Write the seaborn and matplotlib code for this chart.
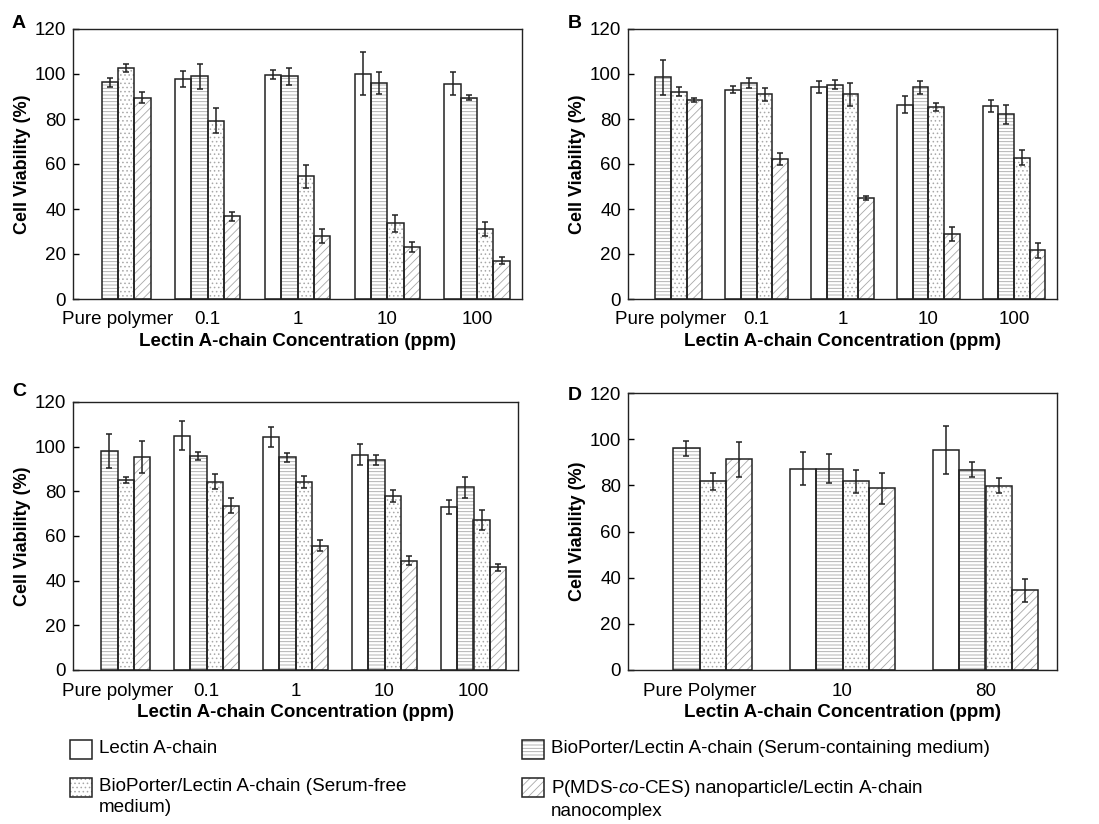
import numpy as np
import pandas as pd
import matplotlib
matplotlib.use("Agg")
import matplotlib.pyplot as plt
from matplotlib.patches import Rectangle
import seaborn as sns

nan = np.nan

# ---------------- data ----------------
series = ["lectin", "serum", "free", "nano"]
series_labels = {
    "lectin": "Lectin A-chain",
    "serum": "BioPorter/Lectin A-chain (Serum-containing medium)",
    "free": "BioPorter/Lectin A-chain (Serum-free\nmedium)",
    "nano": "P(MDS-$\\mathit{co}$-CES) nanoparticle/Lectin A-chain\nnanocomplex",
}

groups_abc = ["Pure polymer", "0.1", "1", "10", "100"]
groups_d = ["Pure Polymer", "10", "80"]

A_lectin = [nan, 97.8, 99.6, 100.1, 95.7]
A_lectin_err = [nan, 3.7, 2.0, 9.5, 5.2]
A_serum = [96.3, 99.0, 99.0, 95.9, 89.5]
A_serum_err = [2.0, 5.6, 3.7, 5.0, 1.2]
A_free = [102.8, 79.3, 54.5, 33.6, 31.1]
A_free_err = [1.8, 5.7, 5.2, 3.7, 3.3]
A_nano = [89.5, 36.7, 27.9, 23.0, 17.0]
A_nano_err = [2.5, 2.0, 3.2, 2.3, 1.5]

B_lectin = [nan, 93.0, 94.2, 86.4, 85.8]
B_lectin_err = [nan, 1.5, 2.6, 3.9, 2.5]
B_serum = [98.5, 95.9, 95.3, 94.0, 82.0]
B_serum_err = [7.7, 2.1, 2.1, 2.7, 4.4]
B_free = [92.1, 90.9, 90.9, 85.2, 62.8]
B_free_err = [1.9, 2.7, 5.0, 1.8, 3.2]
B_nano = [88.4, 62.2, 45.0, 28.7, 21.7]
B_nano_err = [1.0, 2.8, 0.9, 3.1, 3.3]

C_lectin = [nan, 104.9, 104.2, 96.4, 72.9]
C_lectin_err = [nan, 6.5, 4.5, 4.6, 3.2]
C_serum = [97.9, 96.0, 95.2, 94.0, 81.8]
C_serum_err = [7.6, 1.8, 2.0, 2.4, 4.6]
C_free = [85.0, 84.3, 84.3, 78.0, 67.1]
C_free_err = [1.2, 3.3, 2.7, 2.6, 4.5]
C_nano = [95.2, 73.5, 55.6, 49.0, 45.9]
C_nano_err = [7.2, 3.3, 2.5, 2.1, 1.5]

D_lectin = [nan, 87.2, 95.5]
D_lectin_err = [nan, 7.1, 10.4]
D_serum = [96.1, 87.2, 86.8]
D_serum_err = [3.2, 6.4, 3.1]
D_free = [81.7, 81.7, 79.9]
D_free_err = [3.8, 5.1, 3.1]
D_nano = [91.2, 78.7, 34.6]
D_nano_err = [7.4, 6.8, 5.0]

y_ticks = [0, 20, 40, 60, 80, 100, 120]
xlabel = "Lectin A-chain Concentration (ppm)"
ylabel = "Cell Viability (%)"

# ---------------- style ----------------
sns.set_theme(style="ticks")
plt.rcParams["font.family"] = ["Liberation Sans", "DejaVu Sans"]
plt.rcParams["mathtext.fontset"] = "custom"
plt.rcParams["mathtext.rm"] = "Liberation Sans"
plt.rcParams["mathtext.it"] = "Liberation Sans:italic"
plt.rcParams["hatch.linewidth"] = 0.6
for k in ["axes.edgecolor", "xtick.color", "ytick.color", "text.color",
          "axes.labelcolor"]:
    plt.rcParams[k] = "black"

hatches = {"lectin": "", "serum": "-----", "free": "....", "nano": "////"}
hatch_col = "#a8a8a8"

fig = plt.figure(figsize=(10.99, 8.24), dpi=100)
W, H = 1099.0, 824.0


def rect(l, t, r, b):
    return [l / W, 1 - b / H, (r - l) / W, (b - t) / H]


def draw_panel(ax, groups, vals, errs):
    rows = []
    for s in series:
        for g, v in zip(groups, vals[s]):
            if not np.isnan(v):
                rows.append({"group": g, "series": s, "value": v})
    df = pd.DataFrame(rows)
    sns.barplot(data=df, x="group", y="value", hue="series", order=groups,
                hue_order=series, palette={s: "white" for s in series},
                edgecolor=hatch_col, linewidth=0, width=0.73, errorbar=None,
                legend=False, ax=ax)
    bar_conts = list(ax.containers)
    outlines = []
    for j, cont in enumerate(bar_conts):
        s = series[j]
        first = None
        for p in cont:
            p.set_hatch(hatches[s])
            # dark outline drawn over the hatched (grey) bar
            o = Rectangle((p.get_x(), p.get_y()), p.get_width(), p.get_height(),
                          fill=False, edgecolor="#222222", linewidth=1.1, zorder=3)
            ax.add_patch(o)
            if first is None:
                first = o
            xc = p.get_x() + p.get_width() / 2
            i = int(round(xc))
            e = errs[s][i]
            ax.errorbar(xc, p.get_height(), yerr=e, color="#222222",
                        elinewidth=1.1, capsize=2.5, capthick=1.1, zorder=5)
        outlines.append(first)
    ax.set_xlim(-0.5, len(groups) - 0.5)
    ax.set_ylim(0, 120)
    ax.set_yticks(y_ticks)
    ax.tick_params(axis="y", direction="in", length=4, width=1, pad=5,
                   labelsize=13.5)
    ax.tick_params(axis="x", length=0, pad=9, labelsize=13.5)
    ax.set_xlabel(xlabel, fontsize=13.5, fontweight="bold", labelpad=3)
    ax.set_ylabel(ylabel, fontsize=13, fontweight="bold", labelpad=3)
    for sp in ax.spines.values():
        sp.set_visible(True)
        sp.set_linewidth(1.0)
        sp.set_color("#222222")
        sp.set_zorder(6)
    return [(c[0], o) for c, o in zip(bar_conts, outlines)]


axA = fig.add_axes(rect(73, 29, 522, 299))
axB = fig.add_axes(rect(628, 29, 1057, 299))
axC = fig.add_axes(rect(73, 402, 518, 670))
axD = fig.add_axes(rect(628, 393, 1057, 670))

draw_panel(axA, groups_abc,
           {"lectin": A_lectin, "serum": A_serum, "free": A_free, "nano": A_nano},
           {"lectin": A_lectin_err, "serum": A_serum_err, "free": A_free_err, "nano": A_nano_err})
draw_panel(axB, groups_abc,
           {"lectin": B_lectin, "serum": B_serum, "free": B_free, "nano": B_nano},
           {"lectin": B_lectin_err, "serum": B_serum_err, "free": B_free_err, "nano": B_nano_err})
draw_panel(axC, groups_abc,
           {"lectin": C_lectin, "serum": C_serum, "free": C_free, "nano": C_nano},
           {"lectin": C_lectin_err, "serum": C_serum_err, "free": C_free_err, "nano": C_nano_err})
hD = draw_panel(axD, groups_d,
                {"lectin": D_lectin, "serum": D_serum, "free": D_free, "nano": D_nano},
                {"lectin": D_lectin_err, "serum": D_serum_err, "free": D_free_err, "nano": D_nano_err})

for letter, x, yb in [("A", 12, 28), ("B", 568, 28), ("C", 12, 396), ("D", 568, 400)]:
    fig.text(x / W, 1 - yb / H, letter, fontsize=14, fontweight="bold",
             ha="left", va="baseline")

# legend (column-major: col1 = lectin, free ; col2 = serum, nano)
handles = [hD[0], hD[2], hD[1], hD[3]]
labels = [series_labels["lectin"], series_labels["free"],
          series_labels["serum"], series_labels["nano"]]
leg = fig.legend(handles, labels, ncol=2, loc="upper left",
                 bbox_to_anchor=(70 / W, 1 - 740 / H), frameon=False,
                 fontsize=13.6, handlelength=1.17, handleheight=1.17,
                 handletextpad=0.37, columnspacing=6.1, labelspacing=1.0,
                 borderaxespad=0, borderpad=0)
for t in leg.get_texts():
    t.set_linespacing(1.35)
for col in leg._legend_handle_box.get_children():
    for item in col.get_children():
        item.align = "top"

fig.savefig("out.png", dpi=100)
